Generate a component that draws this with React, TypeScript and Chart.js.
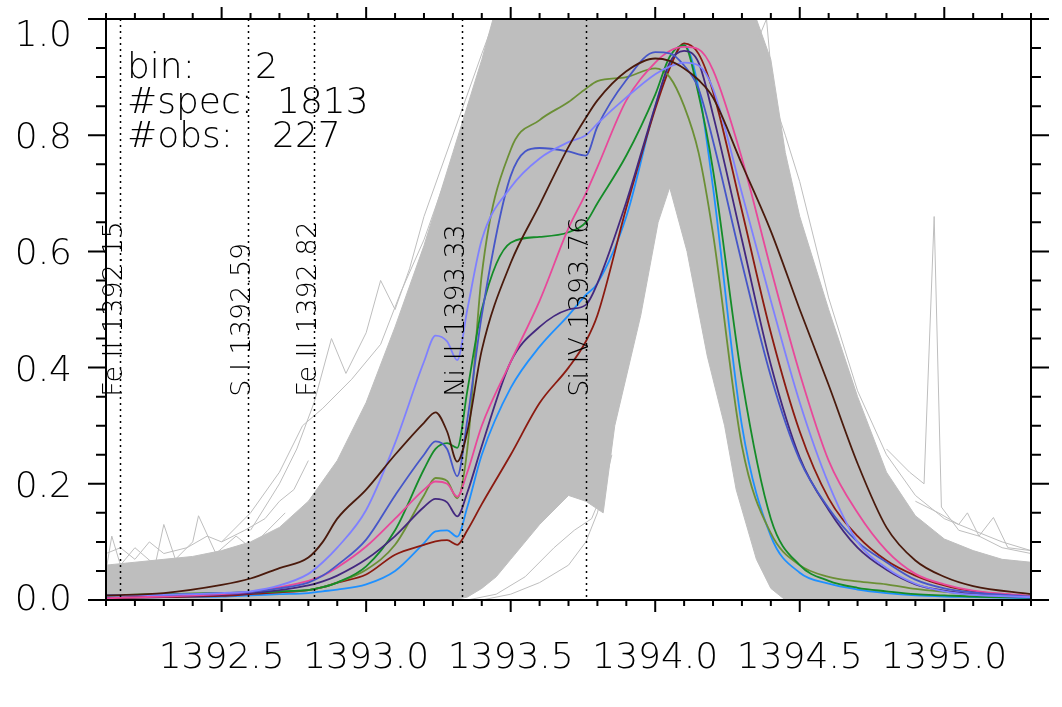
import React, { useEffect, useRef } from 'react'
import Chart from 'chart.js/auto'

// wavelength grid (Angstrom) of the highlighted mean profiles
const lambda = [1392.1, 1392.3, 1392.5, 1392.6, 1392.7, 1392.8, 1392.85, 1392.9, 1393.0, 1393.1, 1393.2, 1393.24, 1393.28, 1393.315, 1393.35, 1393.4, 1393.5, 1393.6, 1393.7, 1393.76, 1393.8, 1393.9, 1394.0, 1394.05, 1394.1, 1394.15, 1394.2, 1394.3, 1394.4, 1394.5, 1394.6, 1394.7, 1394.8, 1394.9, 1395.0, 1395.1, 1395.3]

const profBrown = [0.008, 0.012, 0.026, 0.037, 0.055, 0.073, 0.10, 0.14, 0.19, 0.25, 0.305, 0.323, 0.29, 0.238, 0.29, 0.43, 0.58, 0.68, 0.78, 0.83, 0.86, 0.91, 0.932, 0.928, 0.915, 0.895, 0.865, 0.75, 0.635, 0.50, 0.37, 0.235, 0.125, 0.068, 0.04, 0.024, 0.01]
const profPeriwinkle = [0.008, 0.009, 0.012, 0.015, 0.025, 0.045, 0.065, 0.09, 0.155, 0.27, 0.41, 0.455, 0.445, 0.413, 0.50, 0.62, 0.71, 0.76, 0.788, 0.80, 0.82, 0.865, 0.905, 0.918, 0.925, 0.92, 0.88, 0.70, 0.515, 0.34, 0.20, 0.10, 0.055, 0.028, 0.015, 0.009, 0.005]
const profSlate = [0.008, 0.009, 0.012, 0.014, 0.02, 0.03, 0.042, 0.06, 0.104, 0.18, 0.25, 0.273, 0.26, 0.213, 0.31, 0.49, 0.73, 0.778, 0.772, 0.765, 0.815, 0.895, 0.943, 0.941, 0.92, 0.88, 0.79, 0.58, 0.385, 0.241, 0.158, 0.10, 0.065, 0.035, 0.02, 0.013, 0.006]
const profGreen = [0.008, 0.01, 0.012, 0.013, 0.015, 0.017, 0.022, 0.03, 0.058, 0.12, 0.225, 0.26, 0.27, 0.262, 0.36, 0.50, 0.615, 0.625, 0.633, 0.65, 0.683, 0.765, 0.87, 0.935, 0.955, 0.87, 0.74, 0.38, 0.14, 0.06, 0.033, 0.021, 0.015, 0.01, 0.008, 0.006, 0.004]
const profOlive = [0.008, 0.01, 0.012, 0.013, 0.015, 0.017, 0.022, 0.03, 0.052, 0.095, 0.18, 0.21, 0.205, 0.175, 0.26, 0.56, 0.775, 0.826, 0.857, 0.88, 0.893, 0.90, 0.915, 0.90, 0.85, 0.77, 0.63, 0.265, 0.115, 0.06, 0.04, 0.032, 0.027, 0.019, 0.014, 0.01, 0.006]
const profPink = [0.003, 0.006, 0.01, 0.014, 0.022, 0.033, 0.042, 0.056, 0.092, 0.14, 0.19, 0.204, 0.20, 0.178, 0.22, 0.30, 0.41, 0.515, 0.64, 0.70, 0.745, 0.86, 0.925, 0.945, 0.952, 0.948, 0.912, 0.76, 0.57, 0.39, 0.24, 0.15, 0.085, 0.045, 0.027, 0.016, 0.007]
const profIndigo = [0.004, 0.006, 0.009, 0.012, 0.017, 0.025, 0.032, 0.042, 0.07, 0.11, 0.16, 0.174, 0.168, 0.144, 0.185, 0.265, 0.41, 0.47, 0.50, 0.508, 0.545, 0.685, 0.85, 0.925, 0.945, 0.925, 0.835, 0.62, 0.405, 0.245, 0.155, 0.09, 0.052, 0.027, 0.016, 0.01, 0.004]
const profBlue = [0.003, 0.005, 0.006, 0.008, 0.01, 0.012, 0.015, 0.018, 0.027, 0.05, 0.098, 0.118, 0.12, 0.109, 0.16, 0.25, 0.365, 0.436, 0.49, 0.525, 0.545, 0.66, 0.85, 0.92, 0.955, 0.88, 0.71, 0.30, 0.11, 0.047, 0.028, 0.018, 0.012, 0.008, 0.006, 0.005, 0.003]
const profDarkRed = [0.003, 0.005, 0.007, 0.01, 0.013, 0.017, 0.022, 0.03, 0.044, 0.078, 0.095, 0.101, 0.103, 0.095, 0.12, 0.165, 0.25, 0.339, 0.40, 0.445, 0.49, 0.675, 0.845, 0.915, 0.958, 0.94, 0.875, 0.67, 0.46, 0.29, 0.175, 0.11, 0.068, 0.042, 0.025, 0.015, 0.006]

// envelope of the 1813 grey spectra
const envLambda = [1392.1, 1392.2, 1392.3, 1392.4, 1392.5, 1392.6, 1392.7, 1392.8, 1392.9, 1393.0, 1393.1, 1393.2, 1393.3, 1393.35, 1393.4, 1393.45, 1393.5, 1393.6, 1393.7, 1393.76, 1393.82, 1393.86, 1393.95, 1394.01, 1394.05, 1394.11, 1394.18, 1394.24, 1394.28, 1394.35, 1394.4, 1394.45, 1394.5, 1394.6, 1394.7, 1394.8, 1394.9, 1395.0, 1395.1, 1395.2, 1395.3]
const envUpper = [0.06, 0.065, 0.07, 0.075, 0.085, 0.10, 0.125, 0.17, 0.24, 0.34, 0.47, 0.61, 0.77, 0.85, 0.93, 1.02, 1.05, 1.05, 1.05, 1.05, 1.05, 1.05, 1.05, 1.05, 1.05, 1.05, 1.05, 1.05, 1.05, 1.0, 0.93, 0.77, 0.66, 0.50, 0.35, 0.22, 0.145, 0.105, 0.085, 0.07, 0.065]
const envLower = [0, 0, 0, 0, 0, 0, 0, 0, 0, 0, 0, 0, 0, 0.005, 0.02, 0.04, 0.07, 0.13, 0.18, 0.17, 0.15, 0.30, 0.49, 0.65, 0.71, 0.60, 0.42, 0.30, 0.19, 0.07, 0.02, 0, 0, 0, 0, 0, 0, 0, 0, 0, 0]

// a few stray grey spectra outside the dense band
const strayLeftALambda = [1392.1, 1392.12, 1392.15, 1392.2, 1392.27, 1392.3, 1392.34, 1392.4, 1392.42, 1392.48, 1392.55, 1392.6, 1392.66, 1392.72]
const strayLeftA = [0.05, 0.11, 0.06, 0.09, 0.06, 0.13, 0.07, 0.10, 0.145, 0.08, 0.11, 0.09, 0.12, 0.15]
const strayLeftBLambda = [1392.1, 1392.15, 1392.2, 1392.25, 1392.3, 1392.38, 1392.45, 1392.5, 1392.58, 1392.65, 1392.7, 1392.75, 1392.8]
const strayLeftB = [0.08, 0.09, 0.07, 0.10, 0.08, 0.09, 0.11, 0.10, 0.12, 0.14, 0.17, 0.19, 0.24]
const strayRiseALambda = [1392.6, 1392.7, 1392.76, 1392.82, 1392.88, 1392.93, 1393.0, 1393.05, 1393.1, 1393.15, 1393.2, 1393.3, 1393.4, 1393.46]
const strayRiseA = [0.12, 0.2, 0.26, 0.34, 0.45, 0.39, 0.46, 0.55, 0.50, 0.57, 0.66, 0.80, 0.94, 1.02]
const strayRiseBLambda = [1392.5, 1392.6, 1392.7, 1392.78, 1392.85, 1392.95, 1393.05, 1393.12, 1393.2, 1393.3, 1393.4]
const strayRiseB = [0.10, 0.15, 0.22, 0.30, 0.33, 0.38, 0.44, 0.53, 0.62, 0.76, 0.90]
const strayLowALambda = [1393.3, 1393.4, 1393.5, 1393.6, 1393.7, 1393.76, 1393.8, 1393.85]
const strayLowA = [0.0, 0.0, 0.01, 0.03, 0.06, 0.10, 0.15, 0.25]
const strayLowBLambda = [1393.35, 1393.45, 1393.55, 1393.65, 1393.72, 1393.78, 1393.83]
const strayLowB = [0.0, 0.01, 0.04, 0.09, 0.12, 0.14, 0.2]
const strayApexLambda = [1393.9, 1393.98, 1394.02, 1394.05, 1394.07, 1394.1, 1394.15, 1394.22]
const strayApex = [0.42, 0.62, 0.74, 0.79, 0.72, 0.70, 0.52, 0.36]
const strayFallLambda = [1394.3, 1394.36, 1394.385, 1394.41, 1394.45, 1394.5, 1394.6, 1394.7, 1394.8, 1394.9, 1395.0, 1395.1, 1395.2, 1395.3]
const strayFall = [1.02, 0.97, 1.0, 0.86, 0.80, 0.72, 0.52, 0.36, 0.25, 0.18, 0.14, 0.12, 0.10, 0.085]
const straySpikeLambda = [1394.8, 1394.88, 1394.93, 1394.965, 1394.99, 1395.05, 1395.12, 1395.2, 1395.3]
const straySpike = [0.26, 0.22, 0.20, 0.66, 0.16, 0.12, 0.11, 0.09, 0.08]
const strayTailLambda = [1394.9, 1394.98, 1395.05, 1395.08, 1395.12, 1395.17, 1395.22, 1395.3]
const strayTail = [0.17, 0.15, 0.13, 0.15, 0.11, 0.142, 0.09, 0.085]

// reference lines
const refLambda = [1392.15, 1392.59, 1392.82, 1393.33, 1393.76]
const refNames = ['Fe II 1392.15', 'S I 1392.59', 'Fe II 1392.82', 'Ni II 1393.33', 'Si IV 1393.76']

const xTickLabels = ['1392.5', '1393.0', '1393.5', '1394.0', '1394.5', '1395.0']
const yTickLabels = ['0.0', '0.2', '0.4', '0.6', '0.8', '1.0']

const infoNames = ['bin:', '#spec:', '#obs:']
const infoValues = ['2', '1813', '227']

const FONT = "'DejaVu Sans', sans-serif"
const TEXT_WEIGHT = 200
const GREY = '#bebebe'

const pts = (xs: number[], ys: number[]) => xs.map((v, i) => ({ x: v, y: ys[i] }))

const isStep = (v: number, step: number) => Math.abs(v / step - Math.round(v / step)) < 1e-6

const framePlugin = {
  id: 'idlFrame',
  afterDatasetsDraw (chart: any) {
    const { ctx, chartArea: a, scales } = chart
    const x = scales.x
    const y = scales.y
    ctx.save()

    // dotted line markers
    ctx.strokeStyle = '#000'
    ctx.lineWidth = 1.5
    ctx.setLineDash([2, 4])
    refLambda.forEach((l) => {
      const px = Math.round(x.getPixelForValue(l)) + 0.5
      ctx.beginPath()
      ctx.moveTo(px, a.top)
      ctx.lineTo(px, a.bottom)
      ctx.stroke()
    })
    ctx.setLineDash([])

    // rotated line names
    ctx.fillStyle = '#000'
    ctx.font = `${TEXT_WEIGHT} 27px ${FONT}`
    ctx.textAlign = 'left'
    ctx.textBaseline = 'alphabetic'
    const labelBottom = y.getPixelForValue(0.35)
    refLambda.forEach((l, i) => {
      ctx.save()
      ctx.translate(x.getPixelForValue(l) + 2, labelBottom)
      ctx.rotate(-Math.PI / 2)
      ctx.fillText(refNames[i], 0, 0)
      ctx.restore()
    })

    // frame
    ctx.lineWidth = 2
    ctx.strokeRect(a.left, a.top, a.right - a.left, a.bottom - a.top)

    // outward ticks on all four sides
    ctx.beginPath()
    x.ticks.forEach((t: any) => {
      const px = x.getPixelForValue(t.value)
      const len = isStep(t.value, 0.5) ? 12 : 6
      ctx.moveTo(px, a.bottom)
      ctx.lineTo(px, a.bottom + len)
      ctx.moveTo(px, a.top)
      ctx.lineTo(px, a.top - len)
    })
    y.ticks.forEach((t: any) => {
      const py = y.getPixelForValue(t.value)
      const len = isStep(t.value, 0.2) ? 18 : 10
      ctx.moveTo(a.left - len, py)
      ctx.lineTo(a.left, py)
      ctx.moveTo(a.right, py)
      ctx.lineTo(a.right + len, py)
    })
    ctx.stroke()

    // tick labels
    ctx.font = `${TEXT_WEIGHT} 36px ${FONT}`
    ctx.textAlign = 'center'
    xTickLabels.forEach((s) => {
      ctx.fillText(s, x.getPixelForValue(Number(s)), a.bottom + 68)
    })
    ctx.textAlign = 'right'
    yTickLabels.forEach((s) => {
      const py = Math.min(Math.max(y.getPixelForValue(Number(s)), a.top + 14), a.bottom - 3)
      ctx.fillText(s, a.left - 34, py + 13)
    })

    // info block
    ctx.textAlign = 'left'
    const valueX = [255, 277, 272]
    infoNames.forEach((s, i) => {
      const by = a.top + 59 + i * 34.5
      ctx.fillText(s, a.left + 21, by)
      ctx.fillText(infoValues[i], valueX[i], by)
    })

    ctx.restore()
  }
}

const App: React.FC = () => {
  const chartRef = useRef<HTMLCanvasElement | null>(null)
  const chartInstance = useRef<Chart | null>(null)

  useEffect(() => {
    if (chartRef.current === null) return
    if (chartInstance.current !== null) chartInstance.current.destroy()

    const profile = (data: number[], color: string) => ({
      data: pts(lambda, data),
      borderColor: color,
      borderWidth: 1.8,
      pointRadius: 0,
      cubicInterpolationMode: 'monotone' as const,
      fill: false
    })
    const stray = (xs: number[], ys: number[]) => ({
      data: pts(xs, ys),
      borderColor: GREY,
      borderWidth: 1,
      pointRadius: 0,
      tension: 0,
      fill: false
    })

    chartInstance.current = new Chart(chartRef.current, {
      type: 'line',
      data: {
        datasets: [
          profile(profBrown, '#4a1a0c'),
          profile(profPeriwinkle, '#7f80ff'),
          profile(profSlate, '#4656c8'),
          profile(profPink, '#e8489a'),
          profile(profIndigo, '#43287f'),
          profile(profGreen, '#148c28'),
          profile(profOlive, '#6b8f35'),
          profile(profDarkRed, '#8b1a10'),
          profile(profBlue, '#1e90ff'),
          stray(strayLeftALambda, strayLeftA),
          stray(strayLeftBLambda, strayLeftB),
          stray(strayRiseALambda, strayRiseA),
          stray(strayRiseBLambda, strayRiseB),
          stray(strayLowALambda, strayLowA),
          stray(strayLowBLambda, strayLowB),
          stray(strayApexLambda, strayApex),
          stray(strayFallLambda, strayFall),
          stray(straySpikeLambda, straySpike),
          stray(strayTailLambda, strayTail),
          {
            data: pts(envLambda, envUpper),
            borderColor: GREY,
            backgroundColor: GREY,
            borderWidth: 1,
            pointRadius: 0,
            tension: 0,
            fill: '+1'
          },
          {
            data: pts(envLambda, envLower),
            borderColor: GREY,
            borderWidth: 1,
            pointRadius: 0,
            tension: 0,
            fill: false
          }
        ]
      },
      options: {
        responsive: true,
        maintainAspectRatio: false,
        animation: false,
        devicePixelRatio: 1,
        events: [],
        layout: { padding: { left: 106, right: 31, top: 19, bottom: 107 } },
        plugins: { legend: { display: false }, tooltip: { enabled: false } },
        scales: {
          x: {
            type: 'linear',
            min: 1392.1,
            max: 1395.3,
            ticks: { stepSize: 0.1, display: false },
            grid: { display: false, drawTicks: false },
            border: { display: false }
          },
          y: {
            type: 'linear',
            min: 0,
            max: 1,
            ticks: { stepSize: 0.05, display: false },
            grid: { display: false, drawTicks: false },
            border: { display: false }
          }
        }
      },
      plugins: [framePlugin]
    })

    return () => {
      if (chartInstance.current !== null) {
        chartInstance.current.destroy()
        chartInstance.current = null
      }
    }
  }, [])

  return (
    <div style={{ position: 'absolute', left: 0, top: 0, width: 1062, height: 707, background: '#fff' }}>
      <canvas ref={chartRef} />
    </div>
  )
}

export default App
